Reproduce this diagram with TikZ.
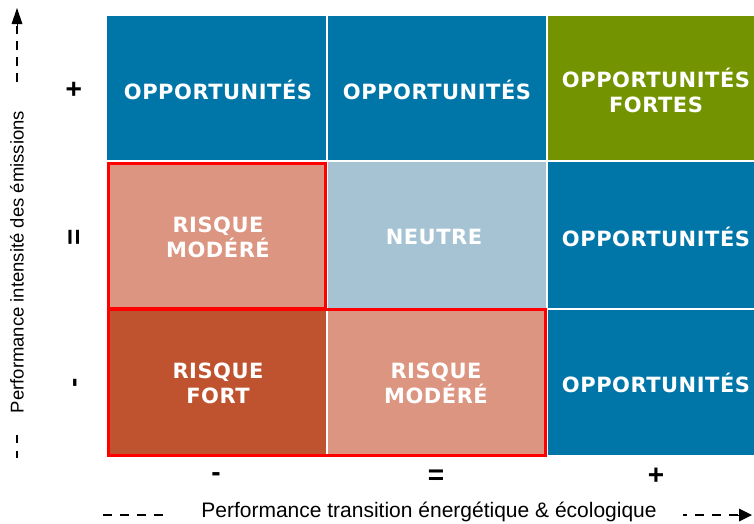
\documentclass[tikz,border=0pt]{standalone}
\usepackage{fontspec}
\setmainfont{Liberation Sans}
\newfontfamily\cellfont[LetterSpace=2.5]{DejaVu Sans}
\usetikzlibrary{arrows.meta}
\definecolor{oppblue}{RGB}{0,118,168}
\definecolor{oppgreen}{RGB}{115,148,0}
\definecolor{riskmod}{RGB}{220,149,128}
\definecolor{riskfort}{RGB}{192,83,47}
\definecolor{neutre}{RGB}{165,195,211}
\tikzset{
  celltext/.style={text=white, font=\cellfont\bfseries\fontsize{21}{25}\selectfont, align=center},
  ticklabel/.style={font=\bfseries\fontsize{28}{30}\selectfont, text=black},
  axislabel/.style={font=\fontsize{#1}{22}\selectfont, text=black},
  axisdash/.style={black, line width=1.6pt, dash pattern=on 9pt off 7pt},
  redbox/.style={draw=red, line width=2.6pt}
}
\begin{document}
\begin{tikzpicture}[x=1pt,y=-1pt]
\useasboundingbox[fill=white] (0,0) rectangle (754,523);
% row 1
\fill[oppblue] (107,16) rectangle (326,160);
\fill[oppblue] (328,16) rectangle (546,160);
\fill[oppgreen] (548,16) rectangle (754,160);
% row 2
\fill[riskmod] (107,162) rectangle (326,308);
\fill[neutre] (328,162) rectangle (546,308);
\fill[oppblue] (548,162) rectangle (754,308);
% row 3
\fill[riskfort] (107,310) rectangle (326,455);
\fill[riskmod] (328,310) rectangle (546,455);
\fill[oppblue] (548,310) rectangle (754,455);
% red outlines
\draw[redbox] (108.3,163.3) rectangle (325.7,308.7);
\draw[redbox] (108.3,309.3) rectangle (545.7,455.7);
% texts
\node[celltext] (c11) at (218,90) {OPPORTUNITÉS};
\node[celltext] (c12) at (437,90) {OPPORTUNITÉS};
\node[celltext] (c13) at (656,90) {OPPORTUNITÉS\\FORTES};
\node[celltext] (c21) at (218,237) {RISQUE\\MODÉRÉ};
\node[celltext] (c22) at (434,237) {NEUTRE};
\node[celltext] (c23) at (656,237) {OPPORTUNITÉS};
\node[celltext] (c31) at (218,383) {RISQUE\\FORT};
\node[celltext] (c32) at (436,383) {RISQUE\\MODÉRÉ};
\node[celltext] (c33) at (656,383) {OPPORTUNITÉS};
% tick labels
\node[ticklabel, rotate=90] (ly1) at (75,89) {+};
\node[ticklabel, rotate=90] (ly2) at (76,237) {=};
\node[ticklabel, rotate=90] (ly3) at (78,383) {-};
\node[ticklabel] (lx1) at (216,477) {-};
\node[ticklabel] (lx2) at (436,477) {=};
\node[ticklabel] (lx3) at (656,476) {+};
% axis labels
\node[axislabel=18.5, rotate=90] (yl) at (17,262) {Performance intensité des émissions};
\node[axislabel=21, anchor=base] (xl) at (429,517.5) {Performance transition énergétique \& écologique};
% axis arrows
\coordinate (ytop) at (17,8);
\coordinate (ya) at (17,82);
\coordinate (yb) at (17,435);
\coordinate (yc) at (17,458);
\draw[axisdash] (ya) -- (17,26);
\draw[-{Triangle[length=16pt,width=11pt]}, black, line width=0pt] (17,25) -- (ytop);
\draw[axisdash, dash pattern=on 8pt off 8pt] (yb) -- (yc);
\coordinate (xa) at (103,515);
\coordinate (xb) at (167,515);
\coordinate (xc) at (683,515);
\coordinate (xd) at (752,515);
\draw[axisdash, dash pattern=on 9pt off 8pt] (xa) -- (xb);
\draw[axisdash, dash pattern=on 4pt off 8pt on 9pt off 8pt on 9pt off 8pt on 9pt off 8pt] (xc) -- (738,515);
\draw[-{Triangle[length=13pt,width=13pt]}, black, line width=0pt] (738,515) -- (xd);
\end{tikzpicture}
\end{document}
